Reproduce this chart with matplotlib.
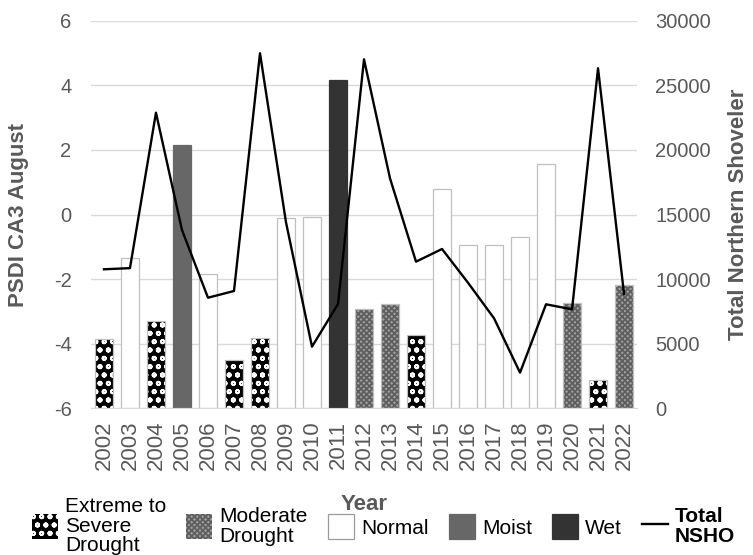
#!/usr/bin/env python3
"""PSDI CA3 August bars with Total Northern Shoveler counts on a twin axis."""

import matplotlib
matplotlib.use("Agg")
import matplotlib.pyplot as plt
from matplotlib.patches import Patch
from matplotlib.lines import Line2D

YEARS = [str(y) for y in range(2002, 2023)]
PSDI = [-3.86, -1.36, -3.31, 2.14, -1.85, -4.50, -3.81, -0.11, -0.09, 4.16, -2.92,
        -2.78, -3.73, 0.80, -0.93, -0.93, -0.71, 1.56, -2.74, -5.11, -2.17]
CLASS = ["ext", "norm", "ext", "moist", "norm", "ext", "ext", "norm", "norm", "wet", "mod",
         "mod", "ext", "norm", "norm", "norm", "norm", "norm", "mod", "ext", "mod"]
NSHO = [10760, 10850, 22880, 13800, 8560, 9080, 27480, 14400, 4770, 8070, 27010,
        17800, 11350, 12330, 9720, 6970, 2760, 8050, 7660, 26320, 8850]

STYLE = {
    "ext": dict(facecolor="black", hatch_color="white", hatch="oo"),
    "mod": dict(facecolor="#a2a2a2", hatch_color="#5e5e5e", hatch="xxxxxx"),
    "norm": dict(facecolor="white", hatch_color=None, hatch=None),
    "moist": dict(facecolor="#676767", hatch_color=None, hatch=None),
    "wet": dict(facecolor="#333333", hatch_color=None, hatch=None),
}
EDGE = {"ext": "#bfbfbf", "mod": "#bfbfbf", "norm": "#bfbfbf", "moist": "#676767", "wet": "#333333"}
LABELS = {
    "ext": "Extreme to\nSevere\nDrought",
    "mod": "Moderate\nDrought",
    "norm": "Normal",
    "moist": "Moist",
    "wet": "Wet",
}
TICK_GRAY = "#595959"

plt.rcParams["font.family"] = ["Liberation Sans", "DejaVu Sans"]
plt.rcParams["axes.unicode_minus"] = False
plt.rcParams["hatch.linewidth"] = 1.3

fig = plt.figure(figsize=(7.53, 5.55), dpi=100)
ax = fig.add_axes([0.1208, 0.2643, 0.7252, 0.6984])
ax2 = ax.twinx()

x = list(range(len(YEARS)))
width = 0.69
for xi, val, cls in zip(x, PSDI, CLASS):
    st = STYLE[cls]
    if st["hatch"]:
        ax.bar(xi, val + 6, bottom=-6, width=width, color=st["facecolor"],
               edgecolor=st["hatch_color"], hatch=st["hatch"], linewidth=0, zorder=2)
        ax.bar(xi, val + 6, bottom=-6, width=width, fill=False,
               edgecolor=EDGE[cls], linewidth=0.9, zorder=3)
    else:
        ax.bar(xi, val + 6, bottom=-6, width=width, color=st["facecolor"],
               edgecolor=EDGE[cls], linewidth=0.9, zorder=2)

ax.set_xlim(-0.5, len(YEARS) - 0.5)
ax.set_ylim(-6, 6)
ax.set_yticks(range(-6, 7, 2))
ax.set_xticks(x, YEARS, rotation=90)
ax.grid(axis="y", color="#d9d9d9", linewidth=1.0, zorder=0)
ax.set_axisbelow(True)
for side in ("top", "left", "right"):
    ax.spines[side].set_visible(False)
ax.spines["bottom"].set_color("#d9d9d9")
ax.tick_params(axis="y", length=0, labelsize=14.5, colors=TICK_GRAY, pad=14)
ax.tick_params(axis="x", length=0, labelsize=16, colors=TICK_GRAY, pad=9)
ax.set_ylabel("PSDI CA3 August", fontsize=16, fontweight="bold", color=TICK_GRAY, labelpad=18)
ax.set_xlabel("Year", fontsize=16, fontweight="bold", color=TICK_GRAY, labelpad=17)

ax2.plot(x, NSHO, color="black", linewidth=1.7, zorder=4)
ax2.set_ylim(0, 30000)
ax2.set_yticks(range(0, 30001, 5000))
for side in ("top", "left", "right", "bottom"):
    ax2.spines[side].set_visible(False)
ax2.tick_params(length=0, labelsize=14.5, colors=TICK_GRAY, pad=13)
ax2.set_ylabel("Total Northern Shoveler", fontsize=16, fontweight="bold", color=TICK_GRAY, labelpad=12)

handles = []
for cls in ("ext", "mod", "norm", "moist", "wet"):
    st = STYLE[cls]
    if st["hatch"]:
        handles.append(Patch(facecolor=st["facecolor"], edgecolor=st["hatch_color"],
                             hatch=st["hatch"], linewidth=0, label=LABELS[cls]))
    else:
        handles.append(Patch(facecolor=st["facecolor"], edgecolor=EDGE[cls] if cls != "norm" else "#9a9a9a",
                             linewidth=0.9, label=LABELS[cls]))
handles.append(Line2D([0], [0], color="black", linewidth=1.7, label="Total\nNSHO"))

leg = fig.legend(handles=handles, loc="center left", bbox_to_anchor=(0.0425, 0.052), ncol=6,
                 frameon=False, fontsize=15, handlelength=1.25, handleheight=1.5,
                 handletextpad=0.35, columnspacing=0.95, borderpad=0, borderaxespad=0)
for txt in leg.get_texts():
    txt.set_linespacing(1.05)
leg.get_texts()[-1].set_fontweight("bold")

fig.savefig("out.png", dpi=100)
